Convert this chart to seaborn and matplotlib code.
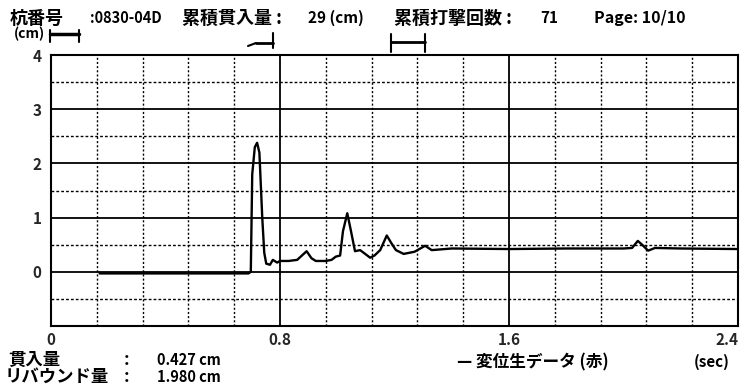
import numpy as np
import pandas as pd
import matplotlib
matplotlib.use("Agg")
import matplotlib.pyplot as plt
from matplotlib.lines import Line2D
import seaborn as sns

# ---- data ----
time_s = [0.17, 0.69, 0.698, 0.703, 0.712, 0.72, 0.728, 0.738, 0.745, 0.752, 0.765,
          0.775, 0.79, 0.80, 0.83, 0.86, 0.893, 0.91, 0.925, 0.96, 0.98, 0.995,
          1.01, 1.02, 1.035, 1.048, 1.062, 1.08, 1.10, 1.115, 1.13, 1.15, 1.173,
          1.19, 1.205, 1.232, 1.27, 1.307, 1.33, 1.40, 1.6, 1.8, 2.0, 2.03, 2.05,
          2.065, 2.086, 2.11, 2.2, 2.4]
disp_cm = [-0.03, -0.03, 0.0, 1.8, 2.3, 2.38, 2.2, 1.0, 0.35, 0.15, 0.13,
           0.22, 0.17, 0.2, 0.2, 0.22, 0.38, 0.25, 0.2, 0.2, 0.22, 0.28,
           0.3, 0.75, 1.08, 0.75, 0.38, 0.4, 0.32, 0.26, 0.3, 0.4, 0.67,
           0.52, 0.4, 0.33, 0.37, 0.48, 0.4, 0.43, 0.42, 0.43, 0.43, 0.44, 0.57,
           0.5, 0.39, 0.44, 0.43, 0.42]
x_ticks = [0, 0.8, 1.6, 2.4]
x_ticklabels = ["0", "0.8", "1.6", "2.4"]
y_ticks = [0, 1, 2, 3, 4]
y_ticklabels = ["0", "1", "2", "3", "4"]

header_pile = "杭番号"
header_pile_id = ":0830-04D"
header_pen_label = "累積貫入量 :"
header_pen_value = "29 (cm)"
header_blow_label = "累積打撃回数 :"
header_blow_value = "71"
header_page = "Page: 10/10"
pen_label = "貫入量"
pen_value = "0.427 cm"
reb_label = "リバウンド量"
reb_value = "1.980 cm"
legend_label = "— 変位生データ (赤)"
unit_y = "(cm)"
unit_x = "(sec)"

df = pd.DataFrame({"t": time_s, "d": disp_cm})

sns.set_theme(style="white")
plt.rcParams['font.family'] = ['Noto Sans CJK JP', 'DejaVu Sans']

W, H = 744, 390
fig = plt.figure(figsize=(W / 100, H / 100), dpi=100)
ax = fig.add_axes([51 / W, 1 - 326 / H, (738 - 51) / W, (326 - 55) / H])

ax.set_xlim(0, 2.4)
ax.set_ylim(-1, 4)

# grid
for yv in np.arange(-0.5, 4.0, 0.5):
    if abs(yv - round(yv)) < 1e-9:
        ax.axhline(yv, color="black", lw=1.3, zorder=1)
    else:
        ax.axhline(yv, color="black", lw=1.0, ls=(0, (2, 1.5)), zorder=1)
for xv in np.arange(0.16, 2.4, 0.16):
    if abs(xv / 0.8 - round(xv / 0.8)) < 1e-6:
        ax.axvline(xv, color="black", lw=1.3, zorder=1)
    else:
        ax.axvline(xv, color="black", lw=1.0, ls=(0, (1.5, 1.5)), zorder=1)

sns.lineplot(data=df, x="t", y="d", ax=ax, color="black", lw=1.7, zorder=3)

for s in ax.spines.values():
    s.set_color("black")
    s.set_linewidth(1.5)

ax.set_xticks(x_ticks)
ax.set_xticklabels(x_ticklabels, fontsize=11, fontweight="bold")
ax.set_yticks(y_ticks)
ax.set_yticklabels(y_ticklabels, fontsize=11, fontweight="bold")
ax.tick_params(length=0, pad=7)
ax.tick_params(axis="x", pad=4)
xl = ax.get_xticklabels()
xl[-1].set_ha("right")
ax.set_xlabel("")
ax.set_ylabel("")


def fx(x):
    return x / W


def fy(y):
    return 1 - y / H


kw = dict(transform=fig.transFigure, fontweight="bold", color="black", va="center")
fig.text(fx(10), fy(18), header_pile, fontsize=13, **kw)
fig.text(fx(90), fy(18), header_pile_id, fontsize=10.5, **kw)
fig.text(fx(182), fy(18), header_pen_label, fontsize=13, **kw)
fig.text(fx(308), fy(18), header_pen_value, fontsize=11, **kw)
fig.text(fx(394), fy(18), header_blow_label, fontsize=13, **kw)
fig.text(fx(540), fy(18), header_blow_value, fontsize=11, **kw)
fig.text(fx(594), fy(18), header_page, fontsize=11.5, **kw)
fig.text(fx(14), fy(34), unit_y, fontsize=10, **kw)

fig.text(fx(8), fy(360), pen_label, fontsize=12.5, **kw)
fig.text(fx(124), fy(360), ":", fontsize=12.5, **kw)
fig.text(fx(157), fy(360), pen_value, fontsize=10.5, **kw)
fig.text(fx(5), fy(377), reb_label, fontsize=12.5, **kw)
fig.text(fx(124), fy(377), ":", fontsize=12.5, **kw)
fig.text(fx(157), fy(377), reb_value, fontsize=10.5, **kw)
fig.text(fx(457), fy(362), legend_label, fontsize=12, **kw)
fig.text(fx(694), fy(362), unit_x, fontsize=11, **kw)

# small range markers above the plot
def seg(x0, y0, x1, y1, lw=1.5):
    fig.add_artist(Line2D([fx(x0), fx(x1)], [fy(y0), fy(y1)], color="black", lw=lw,
                          transform=fig.transFigure))

seg(50, 34, 79, 34, 2.5)
seg(50, 30, 50, 42)
seg(79, 30, 79, 42)
seg(248, 46, 256, 43)
seg(256, 43, 273, 43, 2.0)
seg(273, 33, 273, 48)
seg(391, 42, 425, 42, 2.0)
seg(391, 34, 391, 52)
seg(425, 34, 425, 52)

fig.savefig("out.png", dpi=100, facecolor="white")
